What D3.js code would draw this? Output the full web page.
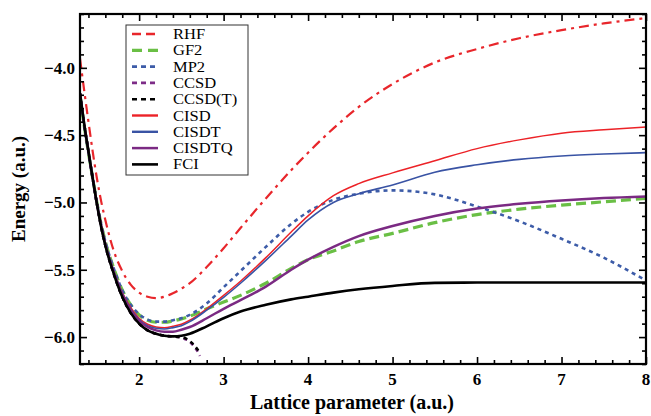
<!DOCTYPE html>
<html><head><meta charset="utf-8">
<script src="https://cdn.jsdelivr.net/npm/d3@7"></script>
<style>body{margin:0;background:#fff}svg{display:block}</style>
</head><body>
<svg id="c" width="651" height="416"></svg>
<script>
// ---- data ----
const xs = [1.3,1.35,1.4,1.45,1.5,1.55,1.6,1.7,1.8,1.9,2.0,2.1,2.2,2.3,2.4,2.5,2.6,2.8,3.0,3.2,3.5,3.8,4.0,4.3,4.6,5.0,5.5,6.0,6.5,7.0,7.5,8.0];
const RHF    = [-3.93,-4.17,-4.40,-4.62,-4.82,-4.99,-5.13,-5.36,-5.51,-5.61,-5.67,-5.70,-5.71,-5.70,-5.675,-5.64,-5.60,-5.48,-5.34,-5.19,-4.97,-4.76,-4.63,-4.45,-4.29,-4.12,-3.96,-3.86,-3.78,-3.72,-3.67,-3.63];
const GF2    = [-4.20,-4.43,-4.63,-4.82,-5.00,-5.16,-5.29,-5.49,-5.65,-5.76,-5.835,-5.875,-5.89,-5.89,-5.88,-5.865,-5.845,-5.79,-5.74,-5.69,-5.60,-5.49,-5.425,-5.36,-5.29,-5.23,-5.15,-5.09,-5.05,-5.02,-4.995,-4.97];
const MP2    = [-4.20,-4.43,-4.63,-4.82,-5.00,-5.16,-5.29,-5.49,-5.65,-5.76,-5.83,-5.87,-5.885,-5.885,-5.875,-5.86,-5.835,-5.75,-5.63,-5.51,-5.33,-5.16,-5.07,-4.98,-4.935,-4.91,-4.94,-5.03,-5.14,-5.27,-5.41,-5.58];
const CISD   = [-4.19,-4.42,-4.62,-4.82,-5.00,-5.17,-5.30,-5.51,-5.67,-5.78,-5.86,-5.905,-5.925,-5.93,-5.92,-5.905,-5.875,-5.79,-5.69,-5.585,-5.41,-5.22,-5.10,-4.95,-4.86,-4.78,-4.69,-4.60,-4.535,-4.485,-4.46,-4.44];
const CISDT  = [-4.19,-4.42,-4.62,-4.82,-5.00,-5.17,-5.30,-5.51,-5.675,-5.79,-5.87,-5.915,-5.935,-5.94,-5.93,-5.915,-5.885,-5.80,-5.705,-5.60,-5.43,-5.25,-5.13,-5.00,-4.935,-4.87,-4.775,-4.72,-4.68,-4.655,-4.64,-4.63];
const CISDTQ = [-4.19,-4.42,-4.62,-4.82,-5.01,-5.17,-5.31,-5.52,-5.68,-5.80,-5.88,-5.925,-5.95,-5.96,-5.96,-5.945,-5.925,-5.86,-5.79,-5.725,-5.625,-5.50,-5.425,-5.33,-5.25,-5.175,-5.10,-5.045,-5.01,-4.985,-4.967,-4.955];
const FCI    = [-4.19,-4.42,-4.62,-4.82,-5.01,-5.18,-5.32,-5.53,-5.70,-5.82,-5.90,-5.95,-5.975,-5.99,-5.995,-5.99,-5.975,-5.92,-5.86,-5.81,-5.76,-5.72,-5.70,-5.67,-5.645,-5.62,-5.597,-5.595,-5.595,-5.595,-5.595,-5.595];
const xsCC   = [1.3,1.35,1.4,1.45,1.5,1.55,1.6,1.7,1.8,1.9,2.0,2.1,2.2,2.3,2.4,2.5,2.6,2.65,2.7,2.72];
const CCSD   = [-4.19,-4.42,-4.62,-4.82,-5.01,-5.18,-5.32,-5.53,-5.70,-5.82,-5.90,-5.95,-5.975,-5.99,-5.995,-6.005,-6.035,-6.07,-6.115,-6.14];
const xsCCT  = [1.3,1.35,1.4,1.45,1.5,1.55,1.6,1.7,1.8,1.9,2.0,2.1,2.2,2.3,2.4,2.5,2.6,2.65,2.7];
const CCSDT  = [-4.19,-4.42,-4.62,-4.82,-5.01,-5.18,-5.32,-5.53,-5.70,-5.82,-5.90,-5.95,-5.975,-5.99,-5.995,-6.0,-6.03,-6.06,-6.10];
const xTicks = [2,3,4,5,6,7,8];
const yTicks = [-6.0,-5.5,-5.0,-4.5,-4.0];
const legendNames = ["RHF","GF2","MP2","CCSD","CCSD(T)","CISD","CISDT","CISDTQ","FCI"];

// ---- styles ----
const series = [
  {name:"RHF",    x:xs,   y:RHF,    color:"#e8262b", w:2.2, dash:"10,5,3,5", ldash:"9,5"},
  {name:"GF2",    x:xs,   y:GF2,    color:"#6abf45", w:3.2, dash:"10,5", ldash:"10,6"},
  {name:"MP2",    x:xs,   y:MP2,    color:"#3d5ca8", w:2.6, dash:"4,4", ldash:"5,4"},
  {name:"CCSD",   x:xsCC, y:CCSD,   color:"#7d2c87", w:2.6, dash:"4,4", ldash:"5,4"},
  {name:"CCSD(T)",x:xsCCT,y:CCSDT,  color:"#000000", w:2.6, dash:"4,4", ldash:"5,4"},
  {name:"CISD",   x:xs,   y:CISD,   color:"#ec2227", w:1.5, dash:null, ldash:null},
  {name:"CISDT",  x:xs,   y:CISDT,  color:"#3953a4", w:1.6, dash:null, ldash:null},
  {name:"CISDTQ", x:xs,   y:CISDTQ, color:"#7b2a83", w:2.5, dash:null, ldash:null},
  {name:"FCI",    x:xs,   y:FCI,    color:"#000000", w:2.6, dash:null, ldash:null}
];

const svg = d3.select("#c");
const L=80, R=646, T=14, B=364;
const x = d3.scaleLinear().domain([1.3,8]).range([L,R]);
const y = d3.scaleLinear().domain([-6.2,-3.6]).range([B,T]);
const serif = "'Liberation Serif','Times New Roman',serif";

svg.append("defs").append("clipPath").attr("id","clip")
  .append("rect").attr("x",L).attr("y",T).attr("width",R-L).attr("height",B-T);

const line = d3.line().x(d=>x(d[0])).y(d=>y(d[1])).curve(d3.curveMonotoneX);
const plot = svg.append("g").attr("clip-path","url(#clip)");
series.forEach(s=>{
  plot.append("path").datum(s.x.map((v,i)=>[v,s.y[i]]))
    .attr("d",line).attr("fill","none").attr("stroke",s.color)
    .attr("stroke-width",s.w).attr("stroke-dasharray",s.dash)
    .attr("stroke-linejoin","round");
});

// ---- axes (Mathematica-like frame, inward ticks) ----
const minorX = d3.range(14,81,2).map(v=>v/10).filter(v=>!xTicks.includes(v));
const minorY = d3.range(-62,-35,1).map(v=>v/10).filter(v=>!yTicks.some(t=>Math.abs(t-v)<1e-9));
const mk = (g, axisFn, scale, vals, size) => g.call(axisFn(scale).tickValues(vals).tickSize(size).tickFormat(""))
   .call(a=>a.select(".domain").remove()).call(a=>a.selectAll("line").attr("stroke","#000").attr("stroke-width",1.6));
mk(svg.append("g").attr("transform",`translate(0,${B})`), d3.axisTop, x, xTicks, 7);
mk(svg.append("g").attr("transform",`translate(0,${B})`), d3.axisTop, x, minorX, 4);
mk(svg.append("g").attr("transform",`translate(0,${T})`), d3.axisBottom, x, xTicks, 7);
mk(svg.append("g").attr("transform",`translate(0,${T})`), d3.axisBottom, x, minorX, 4);
mk(svg.append("g").attr("transform",`translate(${L},0)`), d3.axisRight, y, yTicks, 7);
mk(svg.append("g").attr("transform",`translate(${L},0)`), d3.axisRight, y, minorY, 4);
mk(svg.append("g").attr("transform",`translate(${R},0)`), d3.axisLeft, y, yTicks, 7);
mk(svg.append("g").attr("transform",`translate(${R},0)`), d3.axisLeft, y, minorY, 4);

svg.append("rect").attr("x",L).attr("y",T).attr("width",R-L).attr("height",B-T)
  .attr("fill","none").attr("stroke","#000").attr("stroke-width",2.2);

function txt(px,py,s,opts){
  return svg.append("text").attr("transform",`translate(${px},${py}) scale(${opts.sx||1},1)`)
    .attr("font-family",serif).attr("font-size",opts.size).attr("font-weight",opts.bold?"bold":"normal")
    .attr("text-anchor",opts.anchor||"start").attr("fill","#000").text(s);
}
const fmt = v => (v<0?"\u2212":"")+Math.abs(v).toFixed(1);
xTicks.forEach(v=>txt(x(v),385,String(v),{size:17,bold:true,anchor:"middle"}));
yTicks.forEach(v=>txt(75,y(v)+6,fmt(v),{size:17,bold:true,anchor:"end"}));
txt(352,409,"Lattice parameter (a.u.)",{size:20,bold:true,anchor:"middle"});
svg.append("text").attr("transform",`translate(25,${(T+B)/2}) rotate(-90)`)
  .attr("font-family",serif).attr("font-size",19).attr("font-weight","bold")
  .attr("text-anchor","middle").text("Energy (a.u.)");

// ---- legend ----
const lg = svg.append("g");
lg.append("rect").attr("x",126).attr("y",25).attr("width",122).attr("height",150)
  .attr("fill","#fff").attr("stroke","#333").attr("stroke-width",1);
legendNames.forEach((n,i)=>{
  const s = series.find(d=>d.name===n);
  const yy = 34 + i*16.3;
  lg.append("line").attr("x1",132).attr("x2",158).attr("y1",yy).attr("y2",yy)
    .attr("stroke",s.color).attr("stroke-width",Math.max(s.w,2.4)).attr("stroke-dasharray",s.ldash);
  txt(173,yy+5,n,{size:14,sx:1.18});
});
</script>
</body></html>
